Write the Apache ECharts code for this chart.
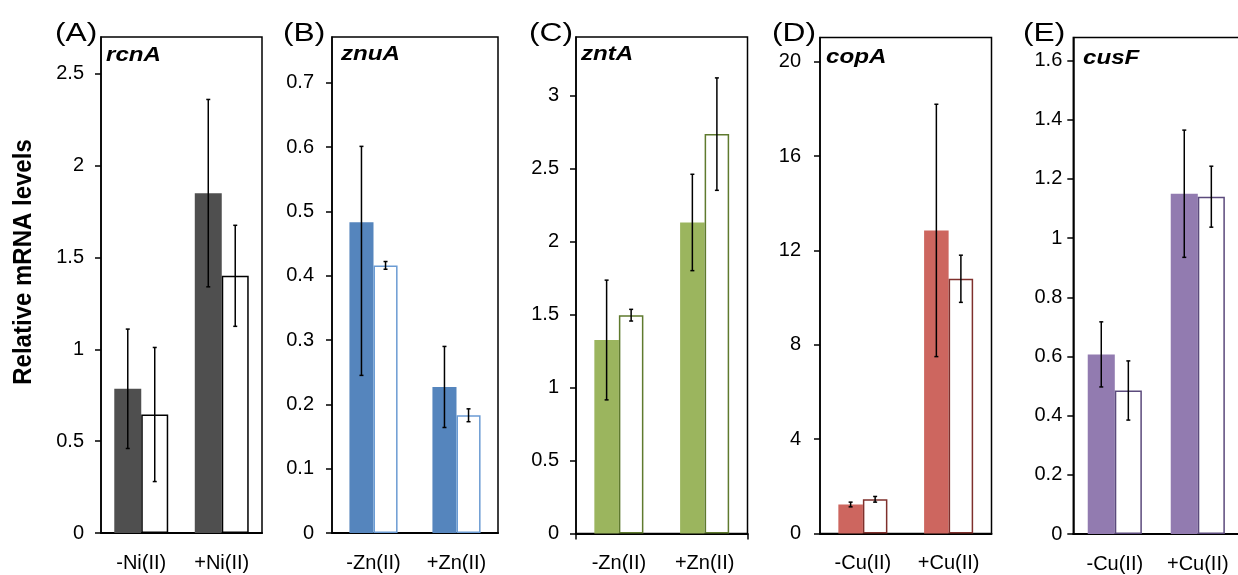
<!DOCTYPE html>
<html><head><meta charset="utf-8">
<script src="https://cdn.jsdelivr.net/npm/echarts@6/dist/echarts.min.js"></script>
<style>html,body{margin:0;padding:0;background:#fff}#c{width:1238px;height:575px}</style>
</head><body><div id="c"></div>
<script>
// ---- data ----
const panelLetters = ['(A)', '(B)', '(C)', '(D)', '(E)'];
const genes = ['rcnA', 'znuA', 'zntA', 'copA', 'cusF'];
const yTitle = 'Relative mRNA levels';

const catsA = ['-Ni(II)', '+Ni(II)'];
const catsB = ['-Zn(II)', '+Zn(II)'];
const catsC = ['-Zn(II)', '+Zn(II)'];
const catsD = ['-Cu(II)', '+Cu(II)'];
const catsE = ['-Cu(II)', '+Cu(II)'];

// values, upper error, lower error
const filledA = [0.785, 1.85];  const filledErrA = [0.325, 0.51];   const filledErrLoA = [0.325, 0.51];
const openA   = [0.645, 1.40];  const openErrA   = [0.365, 0.275];  const openErrLoA   = [0.365, 0.275];
const filledB = [0.483, 0.227]; const filledErrB = [0.118, 0.063];  const filledErrLoB = [0.238, 0.063];
const openB   = [0.416, 0.183]; const openErrB   = [0.006, 0.010];  const openErrLoB   = [0.006, 0.010];
const filledC = [1.325, 2.13];  const filledErrC = [0.41, 0.33];    const filledErrLoC = [0.41, 0.33];
const openC   = [1.495, 2.735]; const openErrC   = [0.04, 0.385];   const openErrLoC   = [0.04, 0.385];
const filledD = [1.23, 12.85];  const filledErrD = [0.10, 5.35];    const filledErrLoD = [0.10, 5.35];
const openD   = [1.45, 10.8];   const openErrD   = [0.12, 1.0];     const openErrLoD   = [0.12, 1.0];
const filledE = [0.607, 1.15];  const filledErrE = [0.11, 0.215];   const filledErrLoE = [0.11, 0.215];
const openE   = [0.485, 1.14];  const openErrE   = [0.10, 0.103];   const openErrLoE   = [0.10, 0.103];

const ticksA = [0, 0.5, 1, 1.5, 2, 2.5];
const tickLabelsA = ['0', '0.5', '1', '1.5', '2', '2.5'];
const ticksB = [0, 0.1, 0.2, 0.3, 0.4, 0.5, 0.6, 0.7];
const tickLabelsB = ['0', '0.1', '0.2', '0.3', '0.4', '0.5', '0.6', '0.7'];
const ticksC = [0, 0.5, 1, 1.5, 2, 2.5, 3];
const tickLabelsC = ['0', '0.5', '1', '1.5', '2', '2.5', '3'];
const ticksD = [0, 4, 8, 12, 16, 20];
const tickLabelsD = ['0', '4', '8', '12', '16', '20'];
const ticksE = [0, 0.2, 0.4, 0.6, 0.8, 1, 1.2, 1.4, 1.6];
const tickLabelsE = ['0', '0.2', '0.4', '0.6', '0.8', '1', '1.2', '1.4', '1.6'];

// ---- layout / style ----
const FONT = 'Liberation Sans, Arial, Helvetica, sans-serif';
const panels = [
  { cats: catsA, f: filledA, fe: filledErrA, fel: filledErrLoA, o: openA, oe: openErrA, oel: openErrLoA, ticks: ticksA, labels: tickLabelsA,
    max: 2.7, grid: { left: 101, top: 37, width: 161, height: 496 }, bw: 0.335,
    fill: '#4f4f4f', edge: '#000000', lm: 17, letterX: 55, geneX: 106, geneY: 55, xTick: false },
  { cats: catsB, f: filledB, fe: filledErrB, fel: filledErrLoB, o: openB, oe: openErrB, oel: openErrLoB, ticks: ticksB, labels: tickLabelsB,
    max: 0.771, grid: { left: 332, top: 37, width: 166, height: 496 }, bw: 0.29,
    fill: '#5585bd', edge: '#6b9bd3', lm: 18, letterX: 283, geneX: 341, geneY: 54, xTick: false },
  { cats: catsC, f: filledC, fe: filledErrC, fel: filledErrLoC, o: openC, oe: openErrC, oel: openErrLoC, ticks: ticksC, labels: tickLabelsC,
    max: 3.4, grid: { left: 576, top: 37, width: 171.5, height: 496.5 }, bw: 0.286,
    fill: '#9bb55e', edge: '#5f7a2e', lm: 17, letterX: 529, geneX: 581, geneY: 54, xTick: true },
  { cats: catsD, f: filledD, fe: filledErrD, fel: filledErrLoD, o: openD, oe: openErrD, oel: openErrLoD, ticks: ticksD, labels: tickLabelsD,
    max: 21.03, grid: { left: 820, top: 37.5, width: 171.5, height: 496 }, bw: 0.286,
    fill: '#cd665f', edge: '#7f302c', lm: 19, letterX: 772, geneX: 826, geneY: 57, xTick: false },
  { cats: catsE, f: filledE, fe: filledErrE, fel: filledErrLoE, o: openE, oe: openErrE, oel: openErrLoE, ticks: ticksE, labels: tickLabelsE,
    max: 1.678, grid: { left: 1073.3, top: 37.5, width: 166, height: 496.5 }, bw: 0.326,
    fill: '#927bb0', edge: '#5b4a7c', lm: 11, letterX: 1023, geneX: 1083, geneY: 58, xTick: false }
];

const grids = [], xAxes = [], yAxes = [], series = [], graphics = [];
panels.forEach((p, i) => {
  grids.push(Object.assign({ show: true, borderColor: '#000', borderWidth: 1.5, containLabel: false, outerBoundsMode: 'none' }, p.grid));
  xAxes.push({
    type: 'category', gridIndex: i, data: p.cats, boundaryGap: true,
    axisLine: { show: true, lineStyle: { color: '#000', width: 2 } },
    axisTick: { show: false },
    axisLabel: { color: '#000', fontSize: 20, fontFamily: FONT, margin: 20, interval: 0 },
    splitLine: { show: false }
  });
  const labs = p.labels, tks = p.ticks;
  yAxes.push({
    type: 'value', gridIndex: i, min: 0, max: p.max,
    axisLine: { show: true, lineStyle: { color: '#000', width: 1.5 } },
    axisTick: { show: true, length: 6, lineStyle: { color: '#000', width: 1.5 }, customValues: tks },
    axisLabel: { color: '#000', fontSize: 20, fontFamily: FONT, margin: p.lm, customValues: tks,
      formatter: v => { for (let k = 0; k < tks.length; k++) if (Math.abs(tks[k] - v) < 1e-9) return labs[k]; return ''; } },
    splitLine: { show: false }
  });
  series.push({
    type: 'bar', xAxisIndex: i, yAxisIndex: i, data: p.f, barWidth: (p.bw * 100) + '%', barGap: '0%',
    itemStyle: { color: p.fill }, silent: true, z: 2
  });
  series.push({
    type: 'bar', xAxisIndex: i, yAxisIndex: i, data: p.o, barWidth: (p.bw * 100) + '%', barGap: '0%',
    itemStyle: { color: '#ffffff', borderColor: p.edge, borderWidth: 1.5 }, silent: true, z: 2
  });
  const errData = [];
  p.f.forEach((v, k) => errData.push([k, v, p.fe[k], p.fel[k], -1]));
  p.o.forEach((v, k) => errData.push([k, v, p.oe[k], p.oel[k], 1]));
  const frac = p.bw;
  series.push({
    type: 'custom', xAxisIndex: i, yAxisIndex: i, data: errData, z: 5, silent: true, clip: false,
    renderItem: (params, api) => {
      const ci = api.value(0), v = api.value(1), eh = api.value(2), el = api.value(3), side = api.value(4);
      const c = api.coord([ci, v]);
      const bw = api.size([1, 0])[0] * frac;
      const x = c[0] + side * bw / 2;
      const yt = api.coord([ci, v + eh])[1];
      const yb = api.coord([ci, v - el])[1];
      const st = { stroke: '#000', lineWidth: 1.5 };
      return { type: 'group', children: [
        { type: 'line', shape: { x1: x, y1: yt, x2: x, y2: yb }, style: st },
        { type: 'line', shape: { x1: x - 2, y1: yt, x2: x + 2, y2: yt }, style: st },
        { type: 'line', shape: { x1: x - 2, y1: yb, x2: x + 2, y2: yb }, style: st }
      ] };
    }
  });
  graphics.push({ type: 'text', x: p.letterX, y: 34, scaleX: 1.22,
    style: { text: panelLetters[i], font: '26px ' + FONT, fill: '#000', verticalAlign: 'middle', textVerticalAlign: 'middle' } });
  graphics.push({ type: 'text', x: p.geneX, y: p.geneY, scaleX: 1.15,
    style: { text: genes[i], font: 'italic bold 21px ' + FONT, fill: '#000', textVerticalAlign: 'middle', verticalAlign: 'middle' } });
});

// extra value axis in panel C giving ticks only at the two ends of the category axis
xAxes.push({
  type: 'value', gridIndex: 2, min: 0, max: 2, position: 'bottom',
  axisLine: { show: false },
  axisTick: { show: true, length: 6, lineStyle: { color: '#000', width: 1.5 }, customValues: [0, 2] },
  axisLabel: { show: false }, splitLine: { show: false }
});

graphics.push({ type: 'text', x: 24, y: 262, rotation: Math.PI / 2, scaleY: 1.05,
  style: { text: yTitle, font: 'bold 24px ' + FONT, fill: '#000', textAlign: 'center', align: 'center', verticalAlign: 'middle', textVerticalAlign: 'middle' } });

const chart = echarts.init(document.getElementById('c'), null, { renderer: 'canvas' });
chart.setOption({
  animation: false,
  backgroundColor: '#fff',
  grid: grids, xAxis: xAxes, yAxis: yAxes, series: series, graphic: graphics
});
</script></body></html>
